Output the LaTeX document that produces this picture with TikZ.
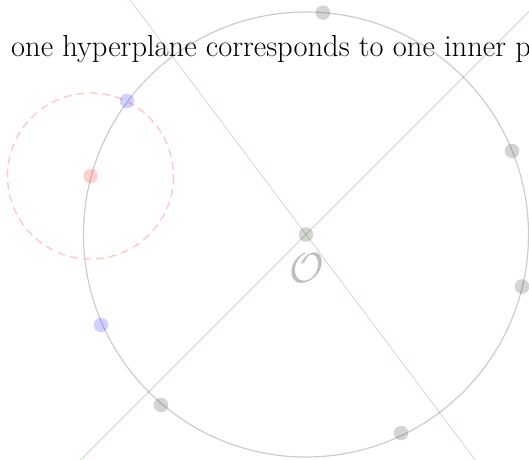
\documentclass[tikz,border=0pt]{standalone}
\usetikzlibrary{calc}
\definecolor{planegreen}{RGB}{208,230,203}
\definecolor{dashpink}{RGB}{255,200,205}
\definecolor{Ogray}{RGB}{190,190,190}
\tikzset{
  ring/.style={draw=black, draw opacity=0.2, line width=1.2pt},
  plane/.style={draw=planegreen, line width=1.1pt},
  halo/.style={draw=dashpink, line width=1.4pt, dash pattern=on 8pt off 5pt},
  graydot/.style={fill=black, fill opacity=0.17},
  bluedot/.style={fill=blue, fill opacity=0.18},
  reddot/.style={fill=red, fill opacity=0.18},
}
\begin{document}
\begin{tikzpicture}[x=1pt, y=-1pt]
\useasboundingbox (0,0) rectangle (529,459);
\clip (0,0) rectangle (529,459);
% centre and plane directions
\coordinate (C) at (306,234.5);
\coordinate (L1a) at ($(C)+(-3*70,-4*70)$);
\coordinate (L1b) at ($(C)+(3*70,4*70)$);
\coordinate (L2a) at ($(C)+(-260,260)$);
\coordinate (L2b) at ($(C)+(260,-260)$);
% hyperplanes
\draw[plane] (L1a) -- (L1b);
\draw[plane] (L2a) -- (L2b);
% unit circle
\draw[ring] (C) circle[radius=222.5];
% points on circle
\coordinate (P1) at (323,12.7);
\coordinate (P2) at (512,151);
\coordinate (P3) at (522,286.5);
\coordinate (P4) at (401,433);
\coordinate (P5) at (161,405);
\coordinate (B1) at (127,101);
\coordinate (B2) at (101,325);
\coordinate (R) at (90.5,176);
% dashed neighbourhood
\draw[halo] (R) circle[radius=83];
\foreach \p in {P1,P2,P3,P4,P5,C} \fill[graydot] (\p) circle[radius=7.3];
\fill[bluedot] (B1) circle[radius=7.3];
\fill[bluedot] (B2) circle[radius=7.3];
\fill[reddot] (R) circle[radius=7.3];
% labels
\node[text=Ogray, inner sep=0, scale=4.2] (Olabel) at (306.5,268.5) {$\mathcal{O}$};
\node[anchor=base west, inner sep=0, font=\fontsize{30.5}{36}\selectfont] (title) at (11,56.5) {one hyperplane corresponds to one inner p};
\end{tikzpicture}
\end{document}
